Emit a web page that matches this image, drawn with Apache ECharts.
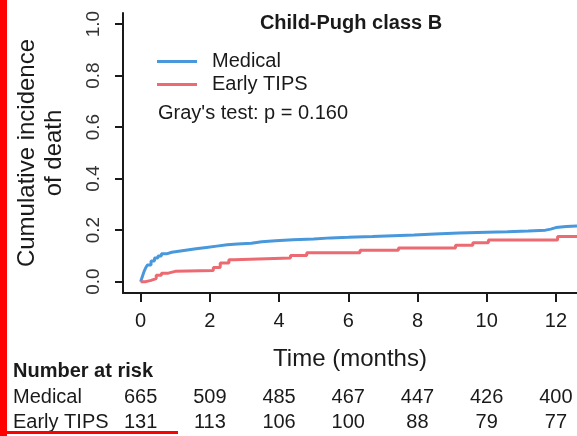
<!DOCTYPE html>
<html>
<head>
<meta charset="utf-8">
<script src="https://cdn.jsdelivr.net/npm/echarts@6/dist/echarts.min.js"></script>
<style>
  html, body { margin: 0; padding: 0; background: #fff; }
  #chart { width: 577px; height: 436px; }
</style>
</head>
<body>
<div id="chart"></div>
<script>
// Cumulative incidence of death, Child-Pugh class B
const timeTicks = [0, 2, 4, 6, 8, 10, 12];
const yTicks = [0, 0.2, 0.4, 0.6, 0.8, 1.0];

// [months, cumulative incidence] at each step
const medicalSteps = [
  [0, 0], [0.05, 0.02], [0.1, 0.04], [0.15, 0.055], [0.2, 0.065], [0.3, 0.08],
  [0.4, 0.092], [0.5, 0.1], [0.6, 0.108], [0.75, 0.114], [0.9, 0.118],
  [1.1, 0.122], [1.3, 0.128], [1.6, 0.133], [1.9, 0.138], [2.2, 0.143],
  [2.5, 0.146], [2.8, 0.149], [3.2, 0.155], [3.5, 0.159], [3.9, 0.163],
  [4.4, 0.166], [5.0, 0.17], [5.5, 0.172], [6.0, 0.175], [6.7, 0.178],
  [7.3, 0.181], [7.9, 0.185], [8.5, 0.189], [9.2, 0.192], [10.0, 0.194],
  [10.6, 0.197], [11.2, 0.2], [11.7, 0.204], [11.85, 0.21], [12.0, 0.214],
  [12.3, 0.216], [12.61, 0.218]
];
const tipsSteps = [
  [0, 0], [0.15, 0.005], [0.3, 0.012], [0.45, 0.025], [0.6, 0.033],
  [0.8, 0.04], [1.0, 0.043], [2.1, 0.055], [2.3, 0.072], [2.55, 0.085],
  [2.7, 0.092], [4.33, 0.102], [4.8, 0.112], [6.34, 0.122], [7.45, 0.131],
  [9.1, 0.141], [9.6, 0.151], [10.05, 0.162], [12.05, 0.175], [12.61, 0.175]
];

// Number at risk at each time tick
const medicalAtRisk = [665, 509, 485, 467, 447, 426, 400];
const tipsAtRisk = [131, 113, 106, 100, 88, 79, 77];

const FONT = 'Liberation Sans, Arial, Helvetica, sans-serif';
const INK = '#1a1a1a';
const BLUE = '#4a98dc';
const RED = '#ec6a72';

const chart = echarts.init(document.getElementById('chart'), null, { renderer: 'canvas' });

function riskAxis(values, offset) {
  return {
    type: 'value', gridIndex: 0, position: 'bottom', offset: offset,
    min: -0.51, max: 12.61,
    axisLine: { show: false }, axisTick: { show: false }, splitLine: { show: false },
    axisLabel: {
      customValues: timeTicks, margin: 0,
      fontFamily: FONT, fontSize: 20, color: INK, lineHeight: 20,
      formatter: v => String(values[timeTicks.indexOf(v)])
    }
  };
}

chart.setOption({
  animation: false,
  backgroundColor: '#fff',
  textStyle: { fontFamily: FONT },
  title: {
    text: 'Child-Pugh class B',
    left: 346, top: 8, textAlign: 'center',
    textStyle: { fontFamily: FONT, fontSize: 20, fontWeight: 'bold', color: INK }
  },
  legend: {
    orient: 'vertical', left: 157, top: 50, padding: 0, itemGap: 0,
    icon: 'rect', itemWidth: 40, itemHeight: 3, selectedMode: false,
    textStyle: { fontFamily: FONT, fontSize: 20, color: INK, lineHeight: 23, padding: [0, 0, 0, 10] },
    data: ['Medical', 'Early TIPS']
  },
  grid: { left: 123, right: 0, top: 13, bottom: 143, containLabel: false },
  xAxis: [
    {
      type: 'value', min: -0.51, max: 12.61,
      name: 'Time (months)', nameLocation: 'middle', nameGap: 54,
      nameTextStyle: { fontFamily: FONT, fontSize: 24, color: INK },
      axisLine: { show: true, onZero: false, lineStyle: { color: INK, width: 2 } },
      axisTick: { show: true, customValues: timeTicks, length: 9, lineStyle: { color: INK, width: 2 } },
      axisLabel: { customValues: timeTicks, margin: 18, fontFamily: FONT, fontSize: 20, color: INK },
      splitLine: { show: false }
    },
    riskAxis(medicalAtRisk, 94),
    riskAxis(tipsAtRisk, 119)
  ],
  yAxis: {
    type: 'value', min: -0.044, max: 1.043,
    name: 'Cumulative incidence\nof death', nameLocation: 'middle', nameGap: 55,
    nameTextStyle: { fontFamily: FONT, fontSize: 24, color: INK, lineHeight: 27 },
    axisLine: { show: true, onZero: false, lineStyle: { color: INK, width: 2 } },
    axisTick: { show: true, customValues: yTicks, length: 8, lineStyle: { color: INK, width: 2 } },
    axisLabel: {
      customValues: yTicks, rotate: 90, margin: 20,
      fontFamily: FONT, fontSize: 19, color: '#333',
      formatter: v => v.toFixed(1)
    },
    splitLine: { show: false }
  },
  series: [
    {
      name: 'Medical', type: 'line', step: 'end', xAxisIndex: 0,
      data: medicalSteps, showSymbol: false, color: BLUE,
      lineStyle: { color: BLUE, width: 3 }
    },
    {
      name: 'Early TIPS', type: 'line', step: 'end', xAxisIndex: 0,
      data: tipsSteps, showSymbol: false, color: RED,
      lineStyle: { color: RED, width: 3 }
    }
  ],
  graphic: [
    {
      type: 'text', left: 158, top: 103,
      style: { text: "Gray's test: p = 0.160", font: '20px ' + FONT, fill: INK }
    },
    {
      type: 'text', left: 13, top: 361,
      style: { text: 'Number at risk', font: 'bold 20px ' + FONT, fill: INK }
    },
    {
      type: 'text', left: 13, top: 387,
      style: { text: 'Medical', font: '20px ' + FONT, fill: INK }
    },
    {
      type: 'text', left: 13, top: 412,
      style: { text: 'Early TIPS', font: '20px ' + FONT, fill: INK }
    },
    { type: 'rect', left: 0, top: 0, shape: { width: 7, height: 436 }, style: { fill: '#ff0000' } },
    { type: 'rect', left: 0, top: 431, shape: { width: 178, height: 3 }, style: { fill: '#ff0000' } }
  ]
});
</script>
</body>
</html>
